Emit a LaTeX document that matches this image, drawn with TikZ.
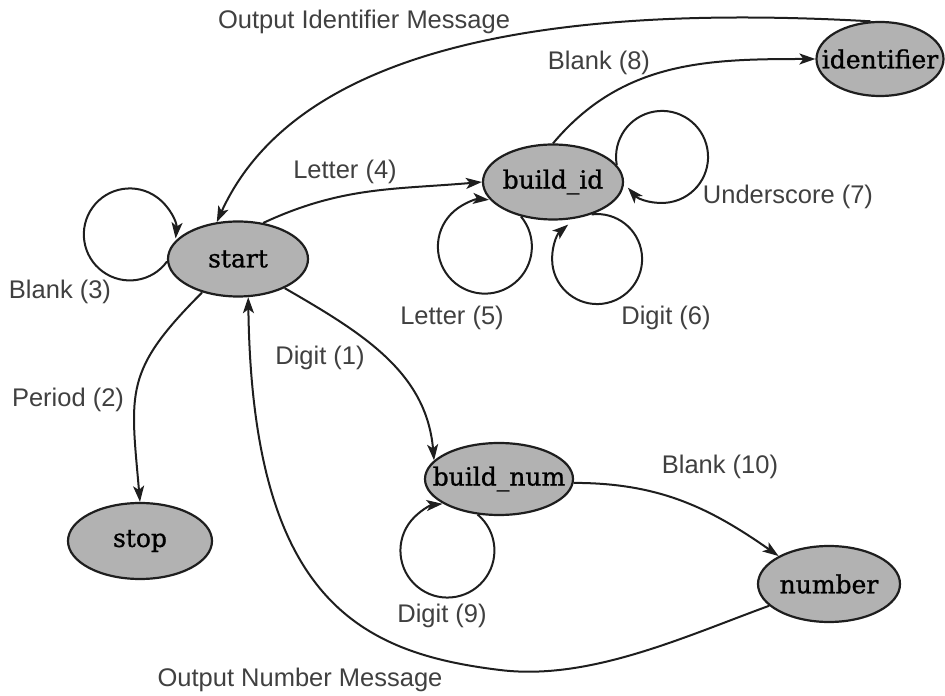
\documentclass[tikz,border=0pt]{standalone}
\usepackage{fontspec}
\usetikzlibrary{arrows.meta,shapes.geometric}
\newfontfamily\edgefont{Liberation Sans}
\newfontfamily\statefont[FakeBold=1]{DejaVu Serif}
\definecolor{stategray}{HTML}{B2B2B2}
\definecolor{inkgray}{HTML}{1E1E1E}

\tikzset{
  state/.style={ellipse,draw=inkgray,line width=2.2pt,fill=stategray,
    minimum width=140pt,minimum height=75pt,inner xsep=-25pt,inner ysep=0pt,
    font=\statefont\fontsize{25}{27}\selectfont},
  trans/.style={draw=inkgray,line width=2pt,-{Stealth[length=16pt,width=11pt,inset=4pt]}},
  lbl/.style={font=\edgefont\fontsize{25.5}{28}\selectfont,text=inkgray!85,inner sep=0pt}
}

\begin{document}
\begin{tikzpicture}[x=1pt,y=1pt]
  \useasboundingbox (0,0) rectangle (945,696);
  % states
  \node[state] (start) at (238,437) {start};
  \node[state] (buildid) at (553,514) {build\_id};
  \node[state,minimum width=127pt,minimum height=74pt] (identifier) at (880,637) {identifier};
  \node[state,minimum width=148pt,minimum height=72pt] (buildnum) at (499,217) {build\_num};
  \node[state,minimum width=142pt,minimum height=76pt] (number) at (829,112) {number};
  \node[state,minimum width=144pt,minimum height=76pt] (stop) at (140,155) {stop};

  % transitions between states
  \draw[trans] (start.55) to[out=25,in=185] (buildid.west);
  \draw[trans] (buildid.90) to[out=50,in=180] (identifier.west);
  \draw[trans] (identifier.104) .. controls +(-302,17) and +(83,182) .. (start.120);
  \draw[trans] (start.223) to[out=225,in=95,looseness=1.3] (stop.north);
  \draw[trans] (start.-32) to[out=-30,in=95] (buildnum.164);
  \draw[trans] (buildnum.-3) to[out=0,in=145] (number.151);
  \coordinate (nummsgdip) at (500,26);
  \draw[trans] (number.200) .. controls +(-85,-31) and +(89,-11) .. (nummsgdip)
    .. controls +(-140,17) and +(4,-303) .. (start.285);

  % self loops
  \draw[trans] (start.182) arc[start angle=-36,end angle=-365,radius=46];
  \draw[trans] (buildid.227) arc[start angle=40,end angle=-275,radius=47];
  \draw[trans] (buildid.-40) arc[start angle=97,end angle=-230,radius=45];
  \draw[trans] (buildid.15) arc[start angle=190,end angle=-138,radius=46];
  \draw[trans] (buildnum.239) arc[start angle=50,end angle=-264,radius=47];

  % input labels
  \node[lbl] (oidmsg) at (364,674) {Output Identifier Message};
  \node[lbl] (blank8) at (599,633) {Blank (8)};
  \node[lbl] (letter4) at (345,524) {Letter (4)};
  \node[lbl] (under7) at (788,499) {Underscore (7)};
  \node[lbl] (blank3) at (60,404) {Blank (3)};
  \node[lbl] (letter5) at (452,378) {Letter (5)};
  \node[lbl] (digit6) at (666,378) {Digit (6)};
  \node[lbl] (digit1) at (320,338) {Digit (1)};
  \node[lbl] (period2) at (68,296) {Period (2)};
  \node[lbl] (blank10) at (720,229) {Blank (10)};
  \node[lbl] (digit9) at (442,80) {Digit (9)};
  \node[lbl] (onummsg) at (300,16) {Output Number Message};
\end{tikzpicture}
\end{document}
